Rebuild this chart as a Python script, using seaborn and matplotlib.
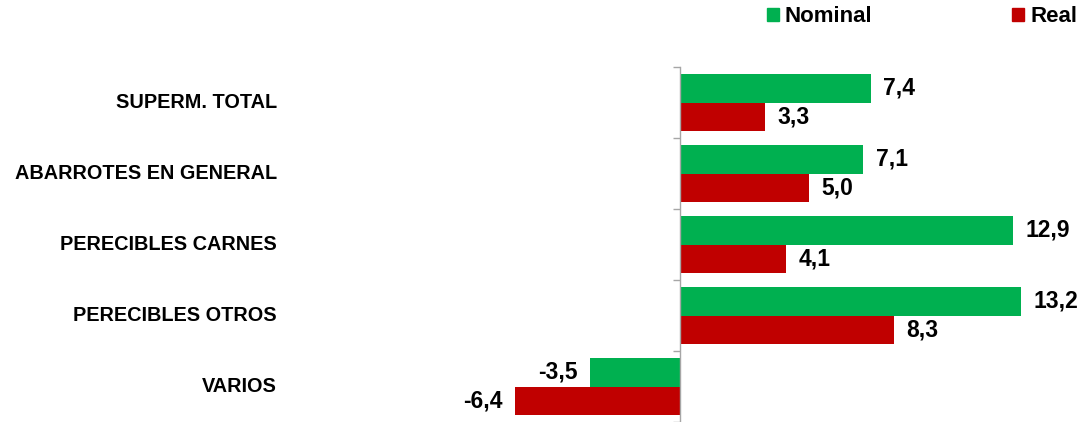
import pandas as pd
import numpy as np
import seaborn as sns
import matplotlib.pyplot as plt
from matplotlib.patches import Patch
from matplotlib.transforms import blended_transform_factory

categories = ['SUPERM. TOTAL', 'ABARROTES EN GENERAL', 'PERECIBLES CARNES',
              'PERECIBLES OTROS', 'VARIOS']
nominal = [7.4, 7.1, 12.9, 13.2, -3.5]
real = [3.3, 5.0, 4.1, 8.3, -6.4]
series = ['Nominal', 'Real']
colors = ['#00B050', '#C00000']


def main():
    sns.set_style('white')
    plt.rcParams['font.family'] = ['Liberation Sans', 'DejaVu Sans']
    plt.rcParams['font.weight'] = 'bold'
    plt.rcParams['text.color'] = 'black'

    df = pd.DataFrame({
        'cat': categories * 2,
        'serie': ['Nominal'] * len(categories) + ['Real'] * len(categories),
        'valor': nominal + real,
    })

    W, H = 1083, 422
    fig = plt.figure(figsize=(W / 100, H / 100), dpi=100)
    # zero line at x=680 px, 25.8 px per unit
    ppu = 25.8
    x0, x1 = -7.5, 14.5
    left_px = 680 + x0 * ppu
    right_px = 680 + x1 * ppu
    top_px, bot_px = 67, 422
    ax = fig.add_axes([left_px / W, 1 - bot_px / H,
                       (right_px - left_px) / W, (bot_px - top_px) / H])

    sns.barplot(data=df, x='valor', y='cat', hue='serie', order=categories,
                hue_order=series, palette=colors, orient='h', width=0.8,
                saturation=1, ax=ax, legend=False, edgecolor='none')

    ax.set_xlim(x0, x1)
    ax.set_ylim(len(categories) - 0.5, -0.5)
    ax.set_xlabel('')
    ax.set_ylabel('')

    for cont, vals in zip(ax.containers, [nominal, real]):
        labs = [f'{v:.1f}'.replace('.', ',') for v in vals]
        ax.bar_label(cont, labels=labs, padding=9, fontsize=16.5,
                     fontweight='bold', color='black')

    for s in ['top', 'right', 'bottom']:
        ax.spines[s].set_visible(False)
    ax.spines['left'].set_position(('data', 0))
    ax.spines['left'].set_color('#A6A6A6')
    ax.spines['left'].set_linewidth(1)
    ax.set_xticks([])
    ax.set_yticks(range(len(categories)))
    ax.set_yticklabels([''] * len(categories))
    ax.tick_params(axis='y', which='major', length=0)
    ax.set_yticks(np.arange(-0.5, len(categories)), minor=True)
    ax.tick_params(axis='y', which='minor', left=True, length=5,
                   color='#A6A6A6', direction='out', width=1)

    tr = blended_transform_factory(fig.transFigure, ax.transData)
    for i, c in enumerate(categories):
        ax.text(277 / W, i, c, transform=tr, ha='right', va='center',
                fontsize=14.3, fontweight='bold', color='black')

    handles = [Patch(color=colors[0], label='Nominal'),
               Patch(color=colors[1], label='Real')]
    fig.legend(handles=handles, loc='center right',
               bbox_to_anchor=(1077 / W, 1 - 17 / H), ncol=2, frameon=False,
               handlelength=0.55, handleheight=0.55, borderpad=0,
               borderaxespad=0, handletextpad=0.25, columnspacing=6.3,
               prop={'weight': 'bold', 'size': 16})

    plt.savefig('out.png', dpi=100)


main()
